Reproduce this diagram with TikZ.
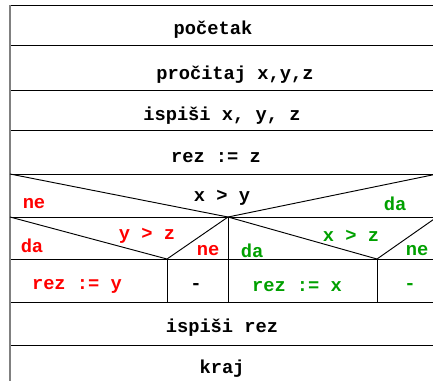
\documentclass[tikz,border=0pt]{standalone}
\usepackage{fontspec}
\setmonofont{Liberation Mono}
\definecolor{nered}{RGB}{255,0,0}
\definecolor{dagreen}{RGB}{0,160,0}

\begin{document}
\begin{tikzpicture}[x=0.03cm,y=-0.03cm,line width=0.8pt]
\tikzstyle{stmt}=[font=\ttfamily\bfseries\fontsize{16}{18}\selectfont,inner sep=0pt,yshift=-2.5*0.03cm]
\tikzstyle{nelabel}=[stmt,text=nered]
\tikzstyle{dalabel}=[stmt,text=dagreen]

\useasboundingbox (0,0) rectangle (433,380);
\clip (0,0) rectangle (433,380);

%% Draw rows of the diagram
\foreach \y in {5,45,90,130,174,217,259,302,345}
    \draw (10,\y) -- (437,\y);
\draw [gray,line width=1.6pt] (10,5) -- (10,385);

%% Outer decision x > y
\draw (10,174) -- (228,217) -- (437,174);
\draw (228,217) -- (228,302);

%% Inner decisions
\draw (10,217) -- (167,259) -- (228,217);
\draw (167,259) -- (167,302);
\draw (228,217) -- (377,259) -- (437,217);
\draw (377,259) -- (377,302);

%% Texts
\node [stmt] (start) at (213,27) {početak};
\node [stmt] (read) at (235,72) {pročitaj x,y,z};
\node [stmt] (print) at (222,113) {ispiši x, y, z};
\node [stmt] (init) at (216,155) {rez := z};
\node [stmt] (condxy) at (222,195) {x > y};
\node [nelabel] (nexy) at (34,201) {ne};
\node [dalabel] (daxy) at (395,201) {da};

\node [nelabel] (condyz) at (147,233) {y > z};
\node [nelabel] (dayz) at (32,243) {da};
\node [nelabel] (neyz) at (208,248) {ne};
\node [dalabel] (condxz) at (351,233) {x > z};
\node [dalabel] (daxz) at (252,248) {da};
\node [dalabel] (nexz) at (417,248) {ne};

\node [nelabel] (sety) at (77,284) {rez := y};
\node [stmt] (skipyz) at (196,284) {-};
\node [dalabel] (setx) at (297,284) {rez := x};
\node [dalabel] (skipxz) at (410,284) {-};

\node [stmt] (printrez) at (222,325) {ispiši rez};
\node [stmt] (stop) at (222,366) {kraj};
\end{tikzpicture}
\end{document}
